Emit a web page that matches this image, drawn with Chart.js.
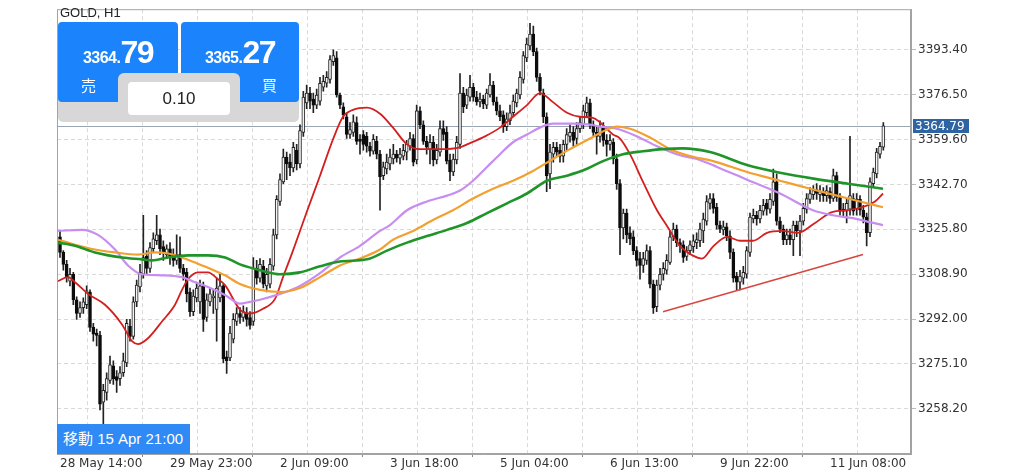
<!DOCTYPE html>
<html>
<head>
<meta charset="utf-8">
<script src="https://cdn.jsdelivr.net/npm/chart.js@4.4.1/dist/chart.umd.min.js"></script>
<style>
  html, body { margin: 0; padding: 0; background: #fff; }
  #wrap { position: relative; width: 1024px; height: 473px; overflow: hidden; }
  #chart { position: absolute; left: 0; top: 0; }
  .ov { position: absolute; }
  #symbol { left: 60px; top: 5px; font: 13px "Liberation Sans", Arial, sans-serif; color: #222; }
  #panel { left: 58px; top: 73px; width: 241px; height: 49px; background: #d7d7d7; border-radius: 0 0 5px 5px; }
  .btn { top: 22px; height: 80px; background: #1b84fd; border-radius: 4px; color: #fff; }
  #sell { left: 58px; width: 120px; }
  #buy { left: 181px; width: 118px; }
  #tab { left: 118px; top: 73px; width: 122px; height: 40px; background: #d7d7d7; border-radius: 6px 6px 0 0; }
  #lot { left: 128px; top: 82px; width: 102px; height: 33px; background: #fff; border-radius: 4px;
         font: 17px "Liberation Sans", Arial, sans-serif; color: #222; text-align: center; line-height: 33px; }
  .price { position: absolute; left: 0; top: 15px; width: 100%; text-align: center; line-height: 31px;
           font-family: "Liberation Sans", Arial, sans-serif; font-weight: bold; white-space: nowrap; }
  .price .sm { font-size: 16px; letter-spacing: -0.5px; }
  .price .lg { font-size: 32px; letter-spacing: -1.5px; }
  .side { position: absolute; top: 55px; font: 15px/15px "Noto Sans CJK JP", sans-serif; }
  #move { left: 57px; top: 424px; width: 133px; height: 30px; background: #2f8af5; color: #fff; box-sizing: border-box;
          padding-left: 6px; line-height: 30px; font: 15px/30px "Liberation Sans", "Noto Sans CJK JP", sans-serif; white-space: nowrap; }
</style>
</head>
<body>
<div id="wrap">
  <canvas id="chart" width="1024" height="473"></canvas>
  <div class="ov" id="symbol">GOLD, H1</div>
  <div class="ov" id="panel"></div>
  <div class="ov btn" id="sell">
    <div class="price"><span class="sm">3364.</span><span class="lg">79</span></div>
    <div class="side" style="left:23px">売</div>
  </div>
  <div class="ov btn" id="buy">
    <div class="price"><span class="sm">3365.</span><span class="lg">27</span></div>
    <div class="side" style="left:81px">買</div>
  </div>
  <div class="ov" id="tab"></div>
  <div class="ov" id="lot">0.10</div>
  <div class="ov" id="move">移動 15 Apr 21:00</div>
</div>
<script>
console.log('gold h1 chart')

// hourly candles, index 0 = 28 May 14:00
const opens = [
  3323.0, 3317.1, 3312.6, 3306.3, 3308.9, 3299.3, 3294.1, 3296.3, 3297.4, 3302.2,
  3288.9, 3286.7, 3285.9, 3260.7, 3264.4, 3268.9, 3274.4, 3270.4, 3269.6, 3271.8,
  3275.5, 3289.3, 3285.5, 3298.5, 3304.1, 3308.9, 3315.6, 3311.1, 3318.5, 3321.5,
  3323.7, 3319.3, 3316.3, 3318.5, 3316.3, 3314.1, 3316.3, 3311.1, 3309.6, 3302.2,
  3294.8, 3300.0, 3298.5, 3304.5, 3292.6, 3298.5, 3300.0, 3295.6, 3300.0, 3304.5,
  3277.8, 3277.4, 3284.4, 3291.1, 3294.1, 3292.6, 3294.4, 3292.6, 3291.1, 3311.1,
  3307.4, 3311.9, 3304.5, 3305.2, 3311.9, 3323.7, 3336.3, 3343.7, 3353.0, 3351.1,
  3348.9, 3355.6, 3350.4, 3362.3, 3373.4, 3377.1, 3374.9, 3372.6, 3374.1, 3379.3,
  3380.8, 3382.3, 3388.9, 3390.4, 3376.4, 3371.9, 3368.2, 3361.5, 3362.3, 3366.0,
  3359.7, 3361.5, 3360.8, 3357.1, 3355.2, 3358.9, 3354.1, 3346.0, 3348.6, 3350.4,
  3352.3, 3354.1, 3352.6, 3353.4, 3354.9, 3357.1, 3360.0, 3351.9, 3370.4, 3365.2,
  3358.9, 3356.0, 3358.6, 3351.9, 3354.9, 3363.7, 3362.3, 3351.9, 3347.4, 3351.9,
  3357.8, 3377.1, 3372.6, 3375.6, 3379.3, 3375.6, 3373.8, 3374.9, 3372.6, 3376.4,
  3380.1, 3373.8, 3370.4, 3368.9, 3364.5, 3366.7, 3369.7, 3373.4, 3376.4, 3382.3,
  3390.4, 3394.9, 3399.3, 3392.7, 3383.0, 3377.1, 3368.2, 3346.7, 3354.1, 3356.7,
  3355.6, 3353.4, 3357.8, 3360.8, 3362.3, 3360.0, 3363.7, 3365.2, 3369.7, 3373.4,
  3365.2, 3362.3, 3360.8, 3364.5, 3359.3, 3357.8, 3358.6, 3352.3, 3343.0, 3326.3,
  3331.9, 3324.5, 3323.0, 3317.8, 3314.8, 3312.2, 3314.1, 3317.8, 3305.2, 3296.7,
  3304.8, 3308.9, 3310.4, 3313.3, 3323.0, 3325.9, 3320.8, 3320.0, 3315.6, 3317.8,
  3319.3, 3320.8, 3321.5, 3325.2, 3328.9, 3335.6, 3337.4, 3334.1, 3327.4, 3325.6,
  3326.7, 3323.3, 3317.1, 3308.2, 3305.9, 3307.4, 3308.9, 3317.1, 3329.7, 3331.1,
  3329.7, 3332.6, 3335.6, 3333.4, 3336.3, 3343.7, 3328.9, 3325.9, 3321.9, 3323.7,
  3321.9, 3327.4, 3325.2, 3328.9, 3333.4, 3337.1, 3338.9, 3340.8, 3338.9, 3340.0,
  3338.5, 3340.0, 3337.4, 3346.0, 3337.8, 3333.4, 3332.6, 3333.4, 3337.4, 3333.4,
  3337.1, 3333.0, 3330.4, 3324.5, 3343.0, 3346.7, 3354.1, 3356.7
];
const highs = [
  3325.2, 3317.8, 3314.1, 3311.1, 3309.6, 3300.4, 3298.5, 3300.0, 3304.5, 3303.0,
  3290.4, 3288.2, 3287.4, 3267.4, 3271.8, 3278.1, 3276.3, 3272.6, 3274.1, 3279.2,
  3291.9, 3291.9, 3300.4, 3306.7, 3312.6, 3331.1, 3317.8, 3320.8, 3324.5, 3331.1,
  3325.9, 3321.5, 3320.0, 3320.8, 3318.5, 3323.7, 3323.0, 3312.6, 3311.1, 3303.7,
  3303.0, 3305.9, 3306.7, 3305.9, 3301.5, 3303.7, 3303.0, 3307.4, 3308.9, 3305.2,
  3280.0, 3289.3, 3294.1, 3296.3, 3296.3, 3297.0, 3296.3, 3294.8, 3315.2, 3314.1,
  3314.8, 3314.1, 3311.1, 3314.8, 3325.9, 3338.5, 3346.7, 3356.0, 3354.9, 3354.1,
  3358.6, 3357.8, 3365.2, 3377.8, 3380.1, 3379.3, 3377.1, 3378.6, 3383.0, 3383.8,
  3385.2, 3391.2, 3393.4, 3392.7, 3377.1, 3373.4, 3369.7, 3366.0, 3368.9, 3368.2,
  3361.5, 3363.0, 3362.3, 3358.6, 3361.5, 3360.8, 3355.6, 3351.1, 3354.1, 3356.0,
  3357.8, 3355.6, 3356.3, 3357.8, 3359.3, 3362.3, 3361.5, 3372.6, 3371.9, 3366.7,
  3360.8, 3361.5, 3360.8, 3357.8, 3366.7, 3366.7, 3364.5, 3354.1, 3354.1, 3360.8,
  3384.5, 3379.3, 3378.6, 3383.8, 3380.8, 3377.8, 3377.1, 3376.4, 3378.6, 3384.5,
  3381.5, 3375.6, 3372.6, 3370.4, 3369.7, 3372.6, 3376.4, 3378.6, 3385.2, 3392.7,
  3397.8, 3403.4, 3402.3, 3394.1, 3384.5, 3378.6, 3369.7, 3357.8, 3358.6, 3358.6,
  3357.8, 3359.3, 3363.7, 3365.2, 3364.5, 3366.0, 3368.2, 3372.6, 3375.6, 3374.9,
  3366.7, 3364.5, 3366.7, 3366.0, 3361.5, 3361.5, 3360.0, 3354.1, 3344.5, 3333.4,
  3333.4, 3326.7, 3325.2, 3319.3, 3317.1, 3317.1, 3320.0, 3319.3, 3306.7, 3306.7,
  3311.1, 3313.3, 3316.3, 3325.2, 3328.2, 3327.4, 3322.2, 3321.5, 3319.3, 3321.5,
  3323.7, 3324.5, 3328.2, 3331.9, 3338.5, 3339.3, 3339.3, 3335.6, 3328.9, 3328.9,
  3328.2, 3325.2, 3318.5, 3309.6, 3310.4, 3311.9, 3319.3, 3331.9, 3333.4, 3332.6,
  3334.8, 3337.1, 3337.1, 3339.3, 3348.5, 3346.7, 3330.4, 3327.4, 3325.9, 3325.9,
  3328.9, 3328.9, 3331.1, 3335.6, 3339.3, 3341.5, 3342.3, 3343.0, 3342.3, 3341.5,
  3342.3, 3341.5, 3348.5, 3347.4, 3339.3, 3335.6, 3337.1, 3360.8, 3339.3, 3339.3,
  3338.5, 3334.8, 3331.9, 3345.2, 3348.9, 3356.3, 3358.6, 3366.0
];
const lows = [
  3315.2, 3310.4, 3305.9, 3304.5, 3297.4, 3291.9, 3292.6, 3294.1, 3295.9, 3287.4,
  3283.7, 3281.9, 3257.8, 3252.2, 3261.5, 3267.8, 3267.4, 3264.4, 3267.0, 3270.4,
  3274.1, 3283.7, 3284.4, 3296.7, 3302.2, 3307.4, 3308.9, 3309.6, 3317.1, 3320.0,
  3316.3, 3314.1, 3314.8, 3312.6, 3311.9, 3312.6, 3309.6, 3306.7, 3298.5, 3293.0,
  3293.3, 3298.5, 3294.1, 3287.4, 3291.1, 3297.0, 3294.1, 3283.7, 3298.5, 3275.5,
  3271.5, 3276.3, 3283.0, 3289.6, 3290.4, 3291.1, 3289.3, 3288.2, 3289.6, 3305.2,
  3305.9, 3303.7, 3302.2, 3303.7, 3310.4, 3322.2, 3334.8, 3343.0, 3344.5, 3346.0,
  3347.4, 3348.2, 3348.9, 3360.8, 3371.2, 3371.2, 3369.7, 3371.2, 3372.6, 3377.8,
  3379.3, 3380.8, 3387.5, 3375.6, 3371.2, 3367.4, 3360.0, 3360.0, 3360.8, 3357.8,
  3354.1, 3355.6, 3354.9, 3353.4, 3354.1, 3352.3, 3333.0, 3344.5, 3346.7, 3348.2,
  3350.4, 3351.1, 3350.4, 3351.9, 3351.9, 3355.6, 3349.7, 3350.4, 3363.7, 3357.8,
  3354.1, 3350.4, 3349.7, 3350.4, 3353.4, 3359.3, 3350.4, 3344.1, 3346.0, 3350.4,
  3356.3, 3369.7, 3371.2, 3374.1, 3374.1, 3372.6, 3371.9, 3371.2, 3371.2, 3375.6,
  3372.6, 3368.9, 3366.7, 3362.3, 3363.0, 3365.2, 3368.2, 3371.9, 3374.9, 3380.8,
  3388.9, 3393.4, 3391.2, 3381.5, 3376.4, 3366.0, 3340.0, 3341.1, 3351.1, 3353.4,
  3351.1, 3351.1, 3355.6, 3358.6, 3357.1, 3357.8, 3362.3, 3363.7, 3368.2, 3363.7,
  3360.8, 3354.1, 3358.6, 3357.1, 3353.4, 3355.6, 3350.4, 3340.8, 3316.3, 3322.2,
  3320.8, 3320.0, 3316.3, 3311.9, 3307.0, 3309.6, 3312.6, 3303.7, 3294.1, 3294.8,
  3303.0, 3306.7, 3308.9, 3312.6, 3321.5, 3319.3, 3317.1, 3313.3, 3314.1, 3316.3,
  3317.1, 3318.5, 3319.3, 3320.8, 3327.4, 3333.4, 3331.9, 3325.9, 3324.5, 3323.7,
  3321.5, 3314.8, 3305.9, 3303.0, 3303.0, 3305.2, 3307.4, 3315.6, 3328.2, 3327.4,
  3328.2, 3331.1, 3331.1, 3331.9, 3334.8, 3327.4, 3324.5, 3320.0, 3320.0, 3320.0,
  3315.9, 3323.0, 3315.9, 3327.4, 3331.9, 3335.6, 3337.1, 3337.1, 3336.3, 3336.3,
  3336.3, 3335.6, 3336.3, 3336.3, 3331.1, 3330.4, 3328.2, 3331.1, 3331.1, 3331.1,
  3331.1, 3328.2, 3319.6, 3323.0, 3341.5, 3345.2, 3352.6, 3355.6
];
const closes = [
  3317.1, 3312.6, 3307.8, 3308.9, 3299.3, 3294.1, 3296.3, 3298.5, 3302.6, 3288.9,
  3286.3, 3285.9, 3260.0, 3265.2, 3269.6, 3274.8, 3269.6, 3268.9, 3271.8, 3276.3,
  3290.4, 3285.5, 3298.5, 3304.8, 3309.6, 3315.2, 3311.1, 3318.9, 3322.2, 3323.7,
  3318.5, 3317.1, 3318.5, 3315.6, 3314.1, 3316.3, 3311.1, 3308.9, 3301.5, 3294.8,
  3300.7, 3303.7, 3304.5, 3291.9, 3299.3, 3301.5, 3300.7, 3303.7, 3304.5, 3277.0,
  3276.3, 3286.7, 3291.9, 3294.1, 3292.6, 3294.8, 3291.9, 3289.6, 3311.1, 3307.4,
  3312.6, 3305.2, 3308.9, 3312.6, 3323.7, 3337.1, 3344.5, 3353.0, 3350.4, 3348.9,
  3356.7, 3350.4, 3363.0, 3375.6, 3377.1, 3374.1, 3372.6, 3376.4, 3380.8, 3381.5,
  3383.0, 3389.7, 3391.2, 3376.4, 3372.6, 3368.9, 3361.5, 3363.4, 3366.3, 3358.9,
  3358.9, 3357.8, 3357.1, 3355.2, 3359.7, 3354.1, 3345.6, 3349.3, 3351.1, 3353.0,
  3354.1, 3352.6, 3354.1, 3355.6, 3357.8, 3360.0, 3351.1, 3370.4, 3365.2, 3358.9,
  3356.7, 3358.6, 3351.9, 3355.6, 3363.7, 3361.5, 3351.5, 3347.4, 3352.3, 3358.6,
  3377.1, 3371.9, 3376.4, 3379.3, 3375.6, 3373.8, 3374.9, 3373.0, 3377.1, 3380.1,
  3373.8, 3370.4, 3368.2, 3364.5, 3367.4, 3369.7, 3374.1, 3377.1, 3383.0, 3391.2,
  3395.6, 3399.3, 3392.7, 3383.0, 3377.8, 3368.2, 3346.0, 3354.9, 3356.7, 3354.9,
  3353.4, 3357.8, 3361.5, 3362.3, 3359.3, 3363.7, 3366.0, 3370.4, 3373.4, 3365.2,
  3362.3, 3360.8, 3364.5, 3359.3, 3357.8, 3359.3, 3352.3, 3343.0, 3326.3, 3331.9,
  3323.7, 3322.2, 3317.8, 3314.1, 3312.2, 3314.8, 3317.8, 3305.2, 3296.3, 3304.8,
  3308.9, 3311.1, 3314.1, 3323.0, 3325.9, 3320.8, 3319.6, 3315.2, 3317.8, 3320.0,
  3321.5, 3321.9, 3325.9, 3329.7, 3336.3, 3337.4, 3333.7, 3327.4, 3325.9, 3326.7,
  3323.3, 3317.1, 3307.4, 3305.9, 3308.2, 3309.6, 3317.8, 3330.4, 3331.1, 3329.7,
  3333.0, 3334.8, 3333.4, 3337.1, 3343.7, 3328.9, 3325.9, 3321.9, 3323.7, 3321.9,
  3327.4, 3325.2, 3328.9, 3333.7, 3337.4, 3339.3, 3340.4, 3339.3, 3340.0, 3338.5,
  3340.4, 3337.4, 3346.0, 3337.8, 3332.6, 3332.6, 3335.6, 3338.5, 3332.6, 3337.1,
  3333.0, 3330.4, 3324.5, 3343.7, 3347.4, 3354.9, 3357.1, 3364.79
];

const redMA = [
  [-0.6, 3306.3], [2.4, 3307.8], [4.5, 3305.9], [8.4, 3301.5], [13.5, 3297.4], [18.6, 3290.0],
  [21.6, 3283.7], [23.4, 3282.6], [26.4, 3284.8], [30.6, 3291.1], [34.5, 3297.4], [36.6, 3303.0],
  [38.4, 3307.0], [41.4, 3309.6], [44.4, 3309.6], [47.4, 3307.0], [49.5, 3304.8], [54, 3295.6],
  [57, 3294.1], [60.9, 3295.9], [64.5, 3299.6], [66.9, 3307.8], [69.9, 3317.8], [74.1, 3332.6],
  [78, 3346.0], [81.9, 3359.7], [84.9, 3368.2], [87.9, 3370.8], [92.1, 3371.6], [96, 3369.3],
  [99.9, 3364.1], [104.1, 3357.8], [108, 3356.0], [114, 3356.0], [120, 3356.7], [122.1, 3357.8],
  [127.5, 3360.8], [132, 3364.1], [135.9, 3368.2], [140.1, 3372.6], [144, 3377.1], [147.9, 3373.7],
  [152.1, 3369.7], [156, 3368.2], [159.9, 3367.8], [165.9, 3361.5], [168, 3360.0], [171, 3354.1],
  [174.9, 3343.7], [179.1, 3333.0], [182.1, 3327.1], [186, 3319.6], [189.9, 3315.9], [192.6, 3314.8],
  [195.9, 3319.3], [200.1, 3323.0], [204, 3321.5], [207.9, 3321.5], [212.1, 3324.5], [216.6, 3325.2],
  [221.4, 3324.5], [226.5, 3328.2], [231.6, 3332.3], [236.4, 3333.0], [241.5, 3334.5], [244.5, 3336.3],
  [246.9, 3339.3]
];
const purpleMA = [
  [-0.9, 3325.2], [6.6, 3325.6], [11.4, 3323.7], [16.5, 3318.2], [20.4, 3312.2], [24.6, 3308.9],
  [30.6, 3308.5], [36.6, 3307.8], [40.5, 3305.9], [44.4, 3304.1], [49.5, 3301.1], [54, 3297.8],
  [57, 3298.5], [60, 3299.3], [66, 3301.5], [72, 3304.5], [78, 3309.3], [84, 3315.2],
  [90, 3319.6], [96, 3325.2], [99, 3327.4], [104.1, 3333.0], [110.1, 3336.3], [116.1, 3338.5],
  [120, 3340.4], [123.9, 3344.1], [128.1, 3349.3], [132, 3354.1], [135.9, 3358.6], [140.1, 3361.5],
  [144, 3364.1], [147.9, 3365.6], [153.9, 3365.6], [159, 3365.2], [162, 3364.5], [167.1, 3363.7],
  [173.1, 3360.8], [179.1, 3357.1], [186, 3353.7], [191.1, 3352.3], [197.1, 3349.3], [206.1, 3344.5],
  [216, 3339.3], [225.9, 3333.0], [231.9, 3331.1], [237.9, 3330.0], [243, 3328.5], [246.9, 3327.4]
];
const orangeMA = [
  [-0.6, 3321.9], [4.5, 3320.0], [10.5, 3318.2], [16.5, 3317.1], [23.4, 3316.3], [28.5, 3317.1],
  [32.4, 3316.7], [36.6, 3315.2], [40.5, 3313.3], [45.6, 3310.7], [49.5, 3308.5], [54, 3305.2],
  [60, 3303.0], [66, 3302.2], [72, 3303.7], [78, 3307.8], [84, 3312.2], [90, 3314.8],
  [96, 3318.2], [99.9, 3321.9], [105.9, 3325.2], [111.9, 3329.3], [117.9, 3333.0], [123.9, 3337.4],
  [129.9, 3341.1], [135.9, 3344.1], [141.9, 3347.8], [147.9, 3352.3], [153, 3356.0], [159, 3360.0],
  [163.5, 3363.0], [167.1, 3364.5], [171, 3363.7], [177, 3360.4], [183, 3356.0], [189, 3353.4],
  [195.9, 3351.5], [206.1, 3347.4], [216, 3344.1], [225.9, 3340.8], [234, 3338.2], [240, 3336.3],
  [246.9, 3334.1]
];
const greenMA = [
  [-0.6, 3320.8], [4.5, 3319.6], [10.5, 3317.1], [18.6, 3315.2], [24.6, 3314.5], [27.6, 3314.1],
  [32.4, 3315.2], [38.4, 3316.0], [44.4, 3316.0], [49.5, 3315.2], [54, 3312.6], [60, 3310.4],
  [66, 3308.9], [72, 3309.6], [78, 3311.9], [84, 3313.7], [92.1, 3314.5], [98.1, 3317.8],
  [104.1, 3320.8], [110.1, 3323.3], [116.1, 3325.6], [122.1, 3328.2], [128.1, 3331.9], [134.1, 3335.6],
  [140.1, 3339.3], [146.1, 3344.1], [152.1, 3346.0], [158.1, 3348.6], [162.9, 3351.5], [168.9, 3354.1],
  [174.9, 3355.2], [180.9, 3356.0], [186.9, 3356.3], [195, 3354.9], [206.1, 3350.0], [216, 3347.1],
  [226.5, 3344.8], [236.4, 3343.0], [246.9, 3341.1]
];

// hand drawn support line
const trendIdx = [180.9, 240.9];
const trendVal = [3294.8, 3316.3];

const timeLabels = ['28 May 14:00', '29 May 23:00', '2 Jun 09:00', '3 Jun 18:00', '5 Jun 04:00', '6 Jun 13:00', '9 Jun 22:00', '11 Jun 08:00'];
const labelIdx = [0, 33, 66, 99, 132, 165, 198, 231];
const priceTicks = [3258.2, 3275.1, 3292.0, 3308.9, 3325.8, 3342.7, 3359.6, 3376.5, 3393.4];

const lastPrice = closes[closes.length - 1];

// grid lines sit at the labels and halfway between them
const gridIdx = [];
labelIdx.forEach((v, k) => {
  gridIdx.push(v);
  if (k < labelIdx.length - 1) gridIdx.push((v + labelIdx[k + 1]) / 2);
});
gridIdx.push(247.5);

const wickData = highs.map((h, i) => ({ x: i, y: [lows[i], h] }));
const bodyData = opens.map((o, i) => ({ x: i, y: [o, closes[i]] }));
const isUp = opens.map((o, i) => closes[i] >= o);

function maLine(points, color, width) {
  return {
    type: 'line',
    data: points.map(p => ({ x: p[0], y: p[1] })),
    borderColor: color,
    borderWidth: width,
    pointRadius: 0,
    cubicInterpolationMode: 'monotone',
    order: 0
  };
}

const chartExtras = {
  id: 'chartExtras',
  beforeDatasetsDraw(chart) {
    const { ctx, chartArea, scales } = chart;
    const py = Math.round(scales.y.getPixelForValue(lastPrice)) + 0.5;
    ctx.save();
    ctx.strokeStyle = '#9aa5b2';
    ctx.lineWidth = 1;
    ctx.beginPath();
    ctx.moveTo(chartArea.left, py);
    ctx.lineTo(chartArea.right, py);
    ctx.stroke();
    ctx.restore();
  },
  afterDraw(chart) {
    const { ctx, chartArea, scales } = chart;
    ctx.save();
    // frame round the plot
    ctx.strokeStyle = '#a3a3a3';
    ctx.lineWidth = 1;
    ctx.strokeRect(chartArea.left + 0.5, chartArea.top + 0.5, chartArea.width - 1, chartArea.height - 1);
    // current price tag
    const py = Math.round(scales.y.getPixelForValue(lastPrice));
    ctx.fillStyle = '#2f64a3';
    ctx.fillRect(chartArea.right + 2, py - 7, 56, 14);
    ctx.fillStyle = '#fff';
    ctx.font = '12px "DejaVu Sans"';
    ctx.textBaseline = 'middle';
    ctx.fillText(lastPrice.toFixed(2), chartArea.right + 4, py + 0.5);
    ctx.restore();
  }
};

Chart.defaults.font.family = '"DejaVu Sans", sans-serif';
Chart.defaults.font.size = 12;

new Chart(document.getElementById('chart'), {
  type: 'bar',
  data: {
    datasets: [
      maLine(greenMA, '#1f9428', 2.6),
      maLine(orangeMA, '#f2a030', 2.2),
      maLine(purpleMA, '#c88df0', 2.2),
      maLine(redMA, '#d3201f', 1.8),
      {
        type: 'line',
        data: trendIdx.map((v, k) => ({ x: v, y: trendVal[k] })),
        borderColor: '#d8453f',
        borderWidth: 1.5,
        pointRadius: 0,
        order: 0
      },
      {
        data: bodyData,
        backgroundColor: isUp.map(u => u ? '#f4f4f4' : '#0c0c0c'),
        borderColor: isUp.map(u => u ? '#222222' : '#0c0c0c'),
        borderWidth: 1,
        borderSkipped: false,
        barThickness: 3,
        minBarLength: 1,
        grouped: false,
        order: 1
      },
      {
        data: wickData,
        backgroundColor: '#222222',
        barThickness: 1,
        grouped: false,
        order: 2
      }
    ]
  },
  options: {
    responsive: false,
    animation: false,
    devicePixelRatio: 1,
    layout: { padding: { left: 57, top: 3, right: 0, bottom: 0 } },
    plugins: { legend: { display: false }, tooltip: { enabled: false } },
    scales: {
      x: {
        type: 'linear',
        min: -0.9,
        max: 255.3,
        offset: false,
        afterBuildTicks: axis => { axis.ticks = gridIdx.map(v => ({ value: v })); },
        afterFit: axis => { axis.height = 19; },
        ticks: {
          autoSkip: false,
          maxRotation: 0,
          align: 'start',
          padding: 0,
          color: '#333',
          callback: v => {
            const k = labelIdx.indexOf(v);
            return k >= 0 ? timeLabels[k] : '';
          }
        },
        grid: {
          color: '#d9d9d9',
          tickLength: 3,
          tickColor: c => (c.tick && labelIdx.includes(c.tick.value)) ? '#888' : 'rgba(0,0,0,0)'
        },
        border: { color: '#a3a3a3', dash: [4, 3] }
      },
      y: {
        position: 'right',
        min: 3241.2,
        max: 3408.7,
        afterBuildTicks: axis => { axis.ticks = priceTicks.map(v => ({ value: v })); },
        afterFit: axis => { axis.width = 113; },
        ticks: {
          padding: 2,
          color: '#333',
          callback: v => Number(v).toFixed(2)
        },
        grid: { color: '#d9d9d9', tickLength: 5, tickColor: '#bbb' },
        border: { color: '#a3a3a3', dash: [4, 3] }
      }
    }
  },
  plugins: [chartExtras]
});
</script>
</body>
</html>
